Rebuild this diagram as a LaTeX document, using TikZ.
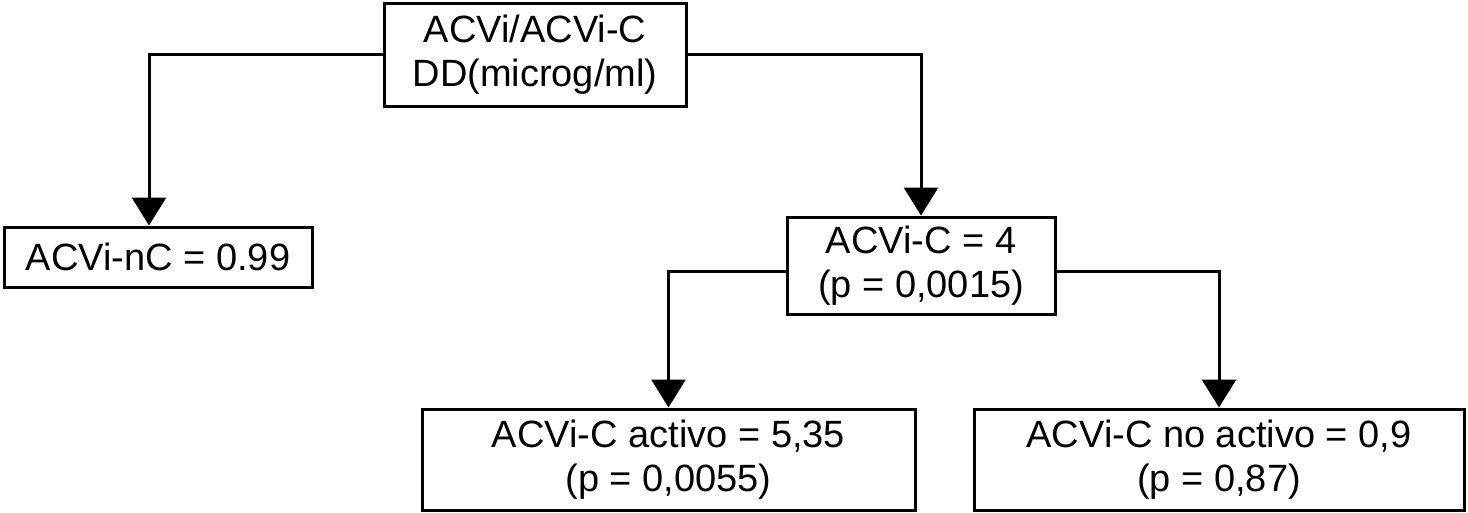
\documentclass[tikz,border=0pt]{standalone}
\usepackage{fontspec}
\setmainfont{Liberation Sans}
\usetikzlibrary{arrows.meta}
\begin{document}
\begin{tikzpicture}[x=1pt,y=-1pt,line width=3pt,
  box/.style={draw, line width=3pt, inner sep=0pt, align=center,
    font=\fontsize{38}{43.5}\selectfont},
  arr/.style={-{Triangle[width=34pt,length=28pt]}}]
\useasboundingbox (0,0) rectangle (1468,512);
\node[box, minimum width=302pt, minimum height=103pt] (top) at (535,54.5) {ACVi/ACVi-C\\DD(microg/ml)};
\node[box, minimum width=308pt, minimum height=60pt] (left) at (158,257) {ACVi-nC = 0.99};
\node[box, minimum width=268pt, minimum height=97pt] (mid) at (921,265.5) {ACVi-C = 4\\(p = 0,0015)};
\node[box, minimum width=493pt, minimum height=101pt] (bl) at (668.5,459.5) {ACVi-C activo = 5,35\\(p = 0,0055)};
\node[box, minimum width=490pt, minimum height=101pt] (br) at (1219,459.5) {ACVi-C no activo = 0,9\\(p = 0,87)};
\draw[arr] (top.west) -| ([xshift=-9pt]left.north);
\draw[arr] (top.east) -| (mid.north);
\draw[arr] ([yshift=-5.5pt]mid.west) -| (bl.north);
\draw[arr] ([yshift=-5.5pt]mid.east) -| (br.north);
\end{tikzpicture}
\end{document}
